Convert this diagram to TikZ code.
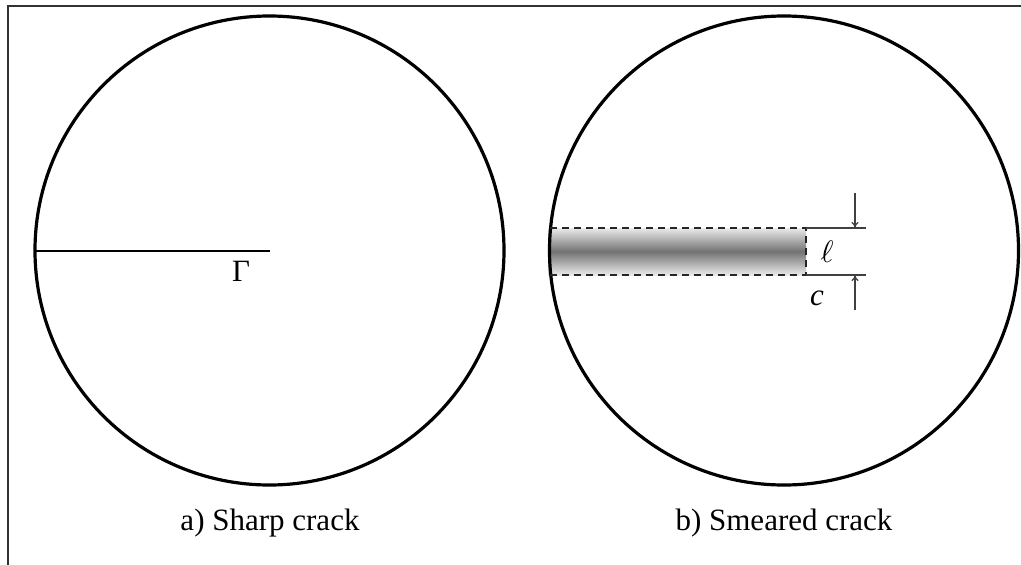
\documentclass[tikz,border=0pt]{standalone}
\usepackage{graphicx}
\usepackage{fontspec}
\setmainfont{Liberation Serif}
\usetikzlibrary{arrows.meta}
\begin{document}
\begin{tikzpicture}[x=1pt,y=-1pt,
  disk/.style={circle,draw,line width=3.2pt,minimum size=469pt,inner sep=0pt,outer sep=0pt},
  lbl/.style={font=\fontsize{31}{37}\selectfont,inner sep=0pt},
  mlbl/.style={font=\fontsize{10}{12}\selectfont,inner sep=0pt},
  dashline/.style={line width=1.3pt,dash pattern=on 7pt off 5pt,draw=black!85},
  dimline/.style={line width=1.1pt,draw=black!75},
  dimarrow/.style={line width=1.1pt,draw=black!75,-{To[length=6pt,width=7pt]}}]
\useasboundingbox (0,0) rectangle (1021,565);
% frame (clipped at right and bottom)
\draw[line width=1.5pt,black!80] (8,565) -- (8,6) -- (1021,6);
% left disk
\node[disk] (L) at (269.5,250.5) {};
\draw[line width=2pt] (L.west) -- (L.center);
\node[lbl] (gam) at (241,271) {Γ};
\node[lbl] (la) at (270,523) {a) Sharp crack};
% right disk with smeared crack
\coordinate (tl) at (548,228);
\coordinate (br) at (806,275);
\shade[top color=black!8,bottom color=black!8,middle color=black!55] (tl) rectangle (br);
\node[disk] (R) at (784,250.5) {};
\coordinate (tr) at (806,228);
\coordinate (bl) at (550,275);
\draw[dashline] (550,228) -- (tr) -- (br) -- (bl);
\coordinate (te) at (866,228);
\coordinate (be) at (866,275);
\draw[dimline] (tr) -- (te);
\draw[dimline] (br) -- (be);
\coordinate (a1) at (855,193);
\coordinate (a1e) at (855,228);
\coordinate (a2) at (855,310);
\coordinate (a2e) at (855,275);
\draw[dimarrow] (a1) -- (a1e);
\draw[dimarrow] (a2) -- (a2e);
\node[mlbl] (ell) at (827,252) {\scalebox{3.1}{$\ell$}};
\node[lbl] (cc) at (817,298) {\textit{c}};
\node[lbl] (lb) at (784,523) {b) Smeared crack};
\end{tikzpicture}
\end{document}
